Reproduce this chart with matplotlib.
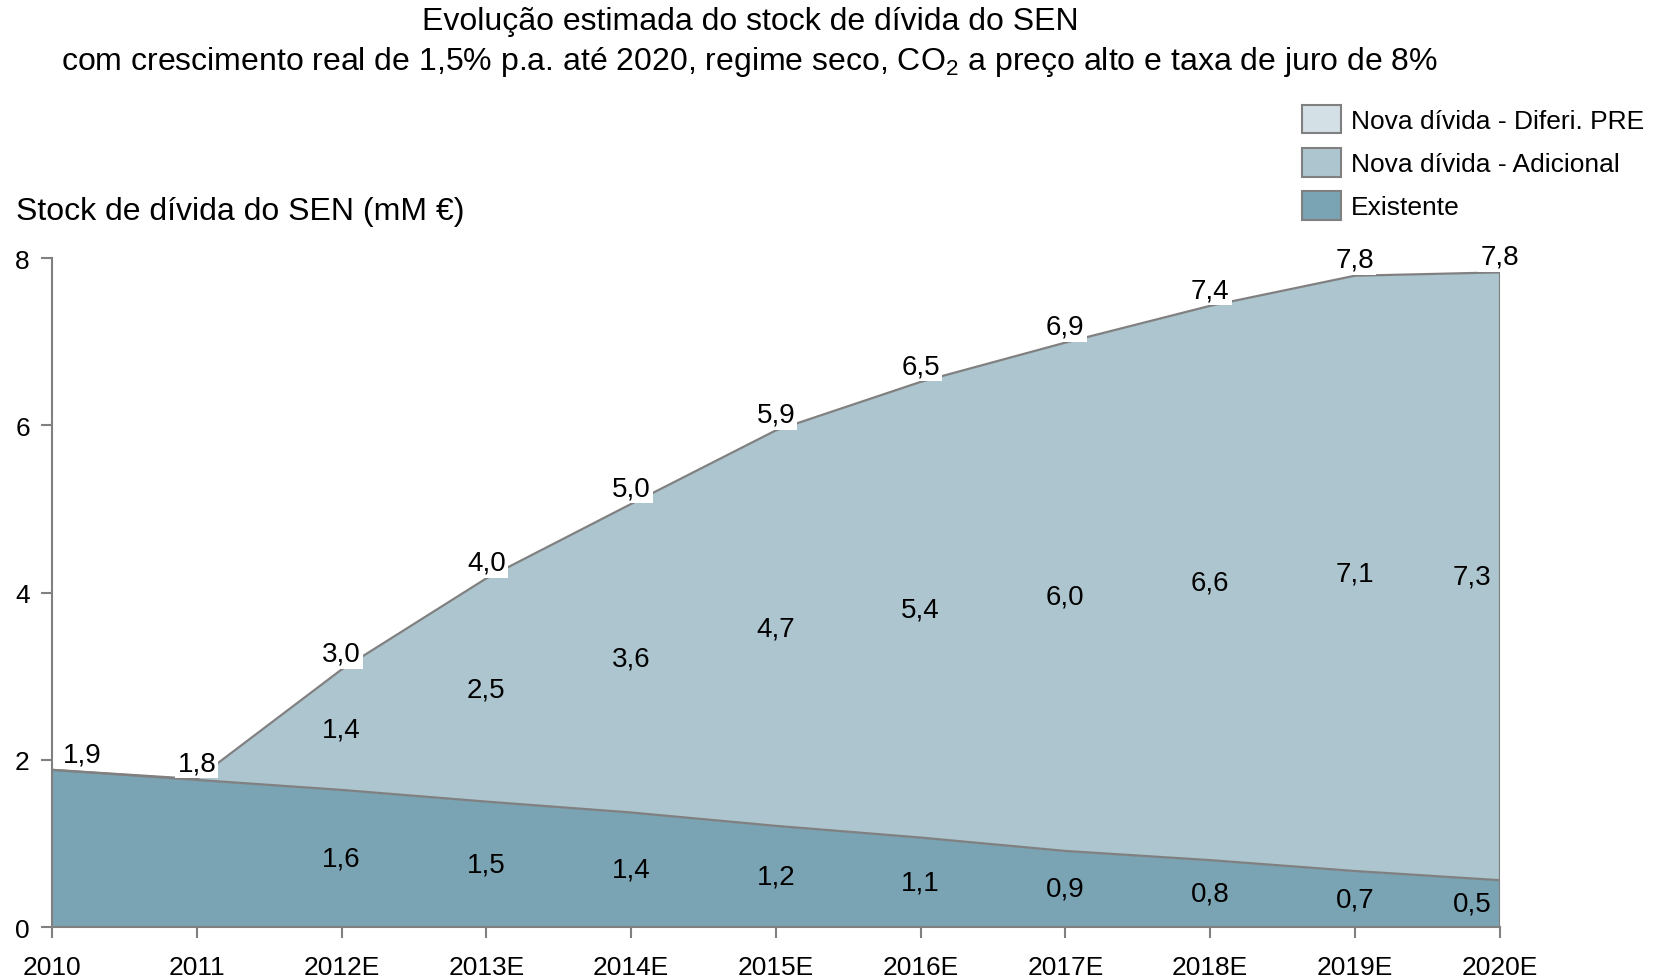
import numpy as np
import matplotlib.pyplot as plt
from matplotlib.patches import Patch

plt.rcParams['font.family'] = ['Liberation Sans', 'DejaVu Sans']
plt.rcParams['mathtext.fontset'] = 'custom'
plt.rcParams['mathtext.rm'] = 'Liberation Sans'

# data (mM €)
anos = ['2010', '2011', '2012E', '2013E', '2014E', '2015E',
        '2016E', '2017E', '2018E', '2019E', '2020E']
existente = [1.88, 1.76, 1.64, 1.50, 1.37, 1.21, 1.07, 0.91, 0.80, 0.67, 0.56]
adicional = [0.00, 0.01, 1.44, 2.67, 3.69, 4.73, 5.45, 6.08, 6.63, 7.12, 7.27]
diferi_pre = [0.0] * 11
lab_total = ['1,9', '1,8', '3,0', '4,0', '5,0', '5,9', '6,5', '6,9', '7,4', '7,8', '7,8']
lab_exist = ['', '', '1,6', '1,5', '1,4', '1,2', '1,1', '0,9', '0,8', '0,7', '0,5']
lab_adic = ['', '', '1,4', '2,5', '3,6', '4,7', '5,4', '6,0', '6,6', '7,1', '7,3']

c_exist = '#7aa3b3'
c_adic = '#acc5cf'
c_dif = '#d3e0e6'
c_line = '#808080'

x = np.arange(len(anos))
e = np.array(existente)
a = np.array(adicional)
d = np.array(diferi_pre)
top1 = e + a
top2 = top1 + d

fig = plt.figure(figsize=(16.57, 9.78), dpi=100)
ax = fig.add_axes([0.0314, 0.0511, 0.8736, 0.6839])

ax.fill_between(x, 0, e, color=c_exist, linewidth=0)
ax.fill_between(x, e, top1, color=c_adic, linewidth=0)
ax.fill_between(x, top1, top2, color=c_dif, linewidth=0)
ax.plot(x, e, color=c_line, linewidth=1.6)
ax.plot(x, top2, color=c_line, linewidth=1.6)
ax.plot([x[-1], x[-1]], [0, top2[-1]], color=c_line, linewidth=1.6)

ax.set_xlim(0, len(anos) - 1)
ax.set_ylim(0, 8)
ax.set_yticks([0, 2, 4, 6, 8])
ax.set_xticks(x)
ax.set_xticklabels(anos)
ax.tick_params(axis='both', colors=c_line, labelcolor='black',
               labelsize=19, length=8, width=1.5)
ax.tick_params(axis='x', pad=12)
ax.tick_params(axis='y', pad=8)
for s in ['top', 'right']:
    ax.spines[s].set_visible(False)
for s in ['left', 'bottom']:
    ax.spines[s].set_color(c_line)
    ax.spines[s].set_linewidth(1.5)

# labels
for i in range(len(anos)):
    dx = 0
    if i == 0:
        dx = 22
    ax.annotate(lab_total[i], (x[i], top2[i]), xytext=(dx, 2),
                textcoords='offset points', ha='center', va='bottom',
                fontsize=20,
                bbox=dict(boxstyle='square,pad=0.08', fc='white', ec='none'))
    off = -20 if i == len(anos) - 1 else 0
    if lab_exist[i]:
        ax.annotate(lab_exist[i], (x[i], e[i] / 2), xytext=(off, 0),
                    textcoords='offset points', ha='center', va='center',
                    fontsize=20)
    if lab_adic[i]:
        ax.annotate(lab_adic[i], (x[i], e[i] + a[i] / 2), xytext=(off, 0),
                    textcoords='offset points', ha='center', va='center',
                    fontsize=20)

fig.text(0.0097, 0.783, 'Stock de dívida do SEN (mM €)', fontsize=23,
         ha='left', va='center')
fig.text(0.4526, 0.978, 'Evolução estimada do stock de dívida do SEN',
         fontsize=23, ha='center', va='center')
fig.text(0.4526, 0.937,
         'com crescimento real de 1,5% p.a. até 2020, regime seco, '
         'CO$_2$ a preço alto e taxa de juro de 8%',
         fontsize=23, ha='center', va='center')

handles = [Patch(facecolor=c_dif, edgecolor=c_line, linewidth=1.5),
           Patch(facecolor=c_adic, edgecolor=c_line, linewidth=1.5),
           Patch(facecolor=c_exist, edgecolor=c_line, linewidth=1.5)]
fig.legend(handles, ['Nova dívida - Diferi. PRE', 'Nova dívida - Adicional',
                     'Existente'],
           loc='upper left', bbox_to_anchor=(0.786, 0.892), frameon=False,
           fontsize=19, handlelength=1.45, handleheight=1.3,
           handletextpad=0.4, labelspacing=0.55, borderaxespad=0,
           borderpad=0)

fig.savefig('out.png', dpi=100)
